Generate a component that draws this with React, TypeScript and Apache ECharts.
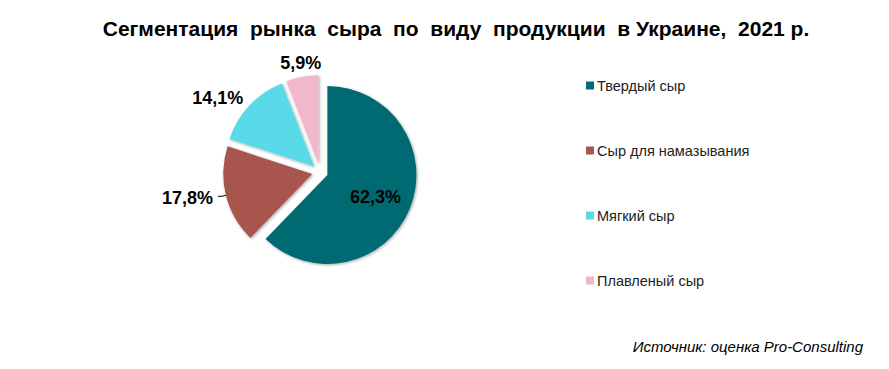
import React, { useEffect, useRef } from "react";
import * as echarts from "echarts";

const categories = ["Твердый сыр", "Сыр для намазывания", "Мягкий сыр", "Плавленый сыр"];
const values = [62.3, 17.8, 14.1, 5.9];
const colors = ["#016B73", "#A8574D", "#58DAE8", "#F1B8CB"];
const titleText = "Сегментация  рынка  сыра  по  виду  продукции  в Украине,  2021 р.";
const sourceText = "Источник: оценка Pro-Consulting";

const lineLengths = [
  [10, 8],
  [4, 4],
  [10, 0],
  [10, 0],
];
const labelShift = [
  { dx: 4, dy: 4 },
  { dx: 0, dy: 2 },
  { dx: 6, dy: 0 },
  { dx: 26, dy: -4 },
];

export default function App() {
  const ref = useRef<HTMLDivElement>(null);
  useEffect(() => {
    const chart = echarts.init(ref.current!, null, { renderer: "svg" });
    chart.setOption({
      animation: false,
      backgroundColor: "#ffffff",
      title: {
        text: titleText,
        left: 451,
        textAlign: "center",
        top: 13,
        textStyle: { fontFamily: "Liberation Sans Narrow, Arial, sans-serif", fontWeight: "bold", fontSize: 21, color: "#000" },
      },
      graphic: [
        {
          type: "text",
          right: 26,
          top: 339,
          style: { text: sourceText, font: "italic 15px Arial, Liberation Sans, sans-serif", fill: "#000" },
        },
      ],
      legend: {
        orient: "vertical",
        left: 581,
        top: 73,
        itemGap: 50,
        itemWidth: 8,
        itemHeight: 8,
        icon: "rect",
        textStyle: { fontFamily: "Arial, Liberation Sans, sans-serif", fontSize: 14.5, color: "#222", padding: [0, 0, 0, -2] },
        data: categories,
      },
      series: [
        {
          type: "pie",
          center: [320, 172],
          radius: 89,
          startAngle: 90,
          clockwise: true,
          selectedMode: "multiple",
          selectedOffset: 8,
          itemStyle: { shadowBlur: 3, shadowColor: "rgba(0,0,0,0.35)", shadowOffsetX: 1, shadowOffsetY: 1 },
          label: {
            formatter: (p: any) => p.value.toFixed(1).replace(".", ",") + "%",
            fontFamily: "Arial, Liberation Sans, sans-serif",
            fontWeight: "bold",
            fontSize: 18,
            color: "#000",
          },
          labelLine: { lineStyle: { color: "#000", width: 1 } },
          labelLayout: (p: any) => labelShift[p.dataIndex],
          data: categories.map((c, i) => ({
            name: c,
            value: values[i],
            selected: true,
            itemStyle: { color: colors[i] },
            label: i === 0 ? { position: "inner" } : { position: "outside" },
            labelLine: { show: i === 1, length: lineLengths[i][0], length2: lineLengths[i][1] },
          })),
        },
      ],
    });
    return () => chart.dispose();
  }, []);
  return <div ref={ref} style={{ position: "fixed", left: 0, top: 0, width: 889, height: 369 }} />;
}
